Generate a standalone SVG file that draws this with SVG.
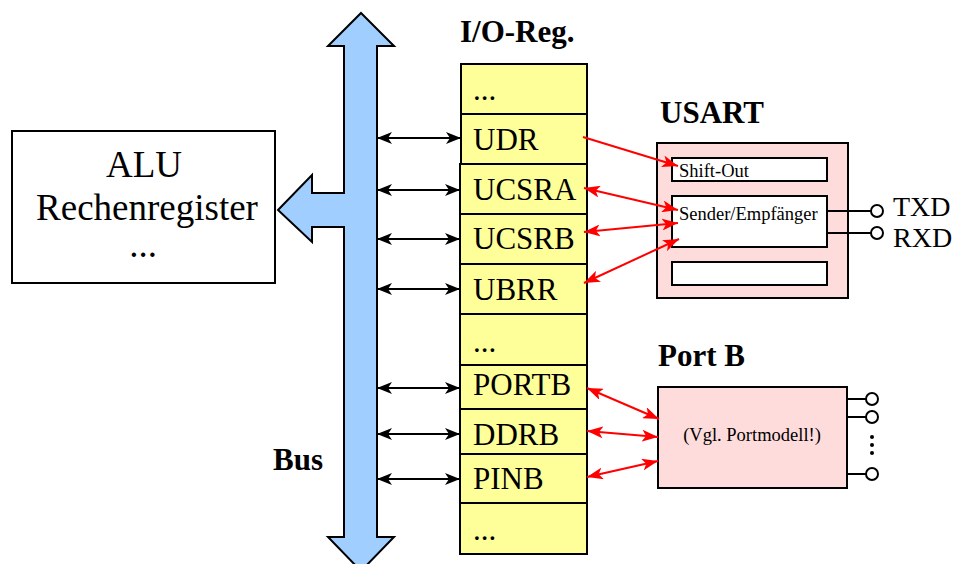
<svg xmlns="http://www.w3.org/2000/svg" width="960" height="564" viewBox="0 0 960 564">
  <style>
    .box { stroke: #000; stroke-width: 2; }
    .reg { fill: #ffff99; stroke: #000; stroke-width: 2; }
    .pink { fill: #ffdcdc; stroke: #000; stroke-width: 2; }
    .white { fill: #fff; stroke: #000; stroke-width: 2; }
    .t { font-family: "Liberation Serif", "Times New Roman", serif; fill: #000; }
    .title { font-family: "Liberation Serif", "Times New Roman", serif; font-weight: bold; font-size: 31px; fill: #000; }
    .regtxt { font-family: "Liberation Serif", "Times New Roman", serif; font-size: 31px; fill: #000; }
    .blk { stroke: #000; stroke-width: 2; fill: none; marker-start: url(#ab); marker-end: url(#ab); }
    .red { stroke: #ff0000; stroke-width: 2; fill: none; marker-end: url(#ar); }
    .red2 { marker-start: url(#ar); }
    .wire { stroke: #000; stroke-width: 2; fill: none; }
    .pin { fill: #fff; stroke: #000; stroke-width: 2; }
  </style>
  <defs>
    <marker id="ab" markerUnits="userSpaceOnUse" markerWidth="15" markerHeight="12" refX="15" refY="6" orient="auto-start-reverse">
      <path d="M0,0 L15,6 L0,12 L4,6 Z" fill="#000"/>
    </marker>
    <marker id="ar" markerUnits="userSpaceOnUse" markerWidth="16" markerHeight="12" refX="16" refY="6" orient="auto-start-reverse">
      <path d="M0,0 L16,6 L0,12 L4,6 Z" fill="#ff0000"/>
    </marker>
  </defs>

  <!-- ALU block -->
  <g id="alu">
    <rect x="12" y="131" width="263" height="152" fill="#fff" class="box"/>
    <text class="t" x="144" y="177" font-size="37" text-anchor="middle">ALU</text>
    <text class="t" x="147" y="220" font-size="37" text-anchor="middle">Rechenregister</text>
    <text class="t" x="143" y="257" font-size="37" text-anchor="middle">...</text>
  </g>

  <!-- Data bus -->
  <g id="bus">
    <polygon points="361,13 394,46 377,46 377,537 394,537 361,571 328,537 344,537 344,227 312,227 312,242 278,210 312,175 312,193 344,193 344,46 328,46" fill="#a0cfff" stroke="#000" stroke-width="2"/>
    <text class="title" x="273" y="470">Bus</text>
  </g>

  <!-- I/O register file -->
  <g id="ioreg">
    <text class="title" x="460" y="42">I/O-Reg.</text>
    <rect class="reg" x="461" y="64" width="126" height="50"/>
    <text class="regtxt" x="473" y="100">...</text>
    <g id="reg-udr">
      <rect class="reg" x="461" y="114" width="126" height="50"/>
      <text class="regtxt" x="473" y="150">UDR</text>
    </g>
    <g id="reg-ucsra">
      <rect class="reg" x="460" y="164" width="127" height="50"/>
      <text class="regtxt" x="473" y="200">UCSRA</text>
    </g>
    <g id="reg-ucsrb">
      <rect class="reg" x="460" y="214" width="127" height="50"/>
      <text class="regtxt" x="473" y="249">UCSRB</text>
    </g>
    <g id="reg-ubrr">
      <rect class="reg" x="460" y="264" width="127" height="50"/>
      <text class="regtxt" x="473" y="300">UBRR</text>
    </g>
    <rect class="reg" x="460" y="314" width="127" height="51"/>
    <text class="regtxt" x="473" y="352">...</text>
    <g id="reg-portb">
      <rect class="reg" x="460" y="365" width="127" height="44"/>
      <text class="regtxt" x="473" y="395">PORTB</text>
    </g>
    <g id="reg-ddrb">
      <rect class="reg" x="460" y="409" width="127" height="45"/>
      <text class="regtxt" x="473" y="445">DDRB</text>
    </g>
    <g id="reg-pinb">
      <rect class="reg" x="460" y="454" width="127" height="49"/>
      <text class="regtxt" x="473" y="489">PINB</text>
    </g>
    <rect class="reg" x="460" y="503" width="127" height="51"/>
    <text class="regtxt" x="473" y="540">...</text>
  </g>

  <!-- USART unit -->
  <g id="usart">
    <text class="title" x="660" y="123">USART</text>
    <rect class="pink" x="657" y="143" width="191" height="155"/>
    <rect class="white" x="672" y="158" width="155" height="23"/>
    <text class="t" x="679" y="177" font-size="18.5">Shift-Out</text>
    <rect class="white" x="672" y="196" width="155" height="51"/>
    <text class="t" x="679" y="220" font-size="18.5">Sender/Empfänger</text>
    <rect class="white" x="672" y="262" width="155" height="23"/>
    <path class="wire" d="M827,211 H871 M827,233 H871"/>
    <circle class="pin" cx="877" cy="211" r="6"/>
    <circle class="pin" cx="877" cy="233" r="6"/>
    <text class="t" x="893" y="216" font-size="28">TXD</text>
    <text class="t" x="893" y="247" font-size="28">RXD</text>
  </g>

  <!-- Port B unit -->
  <g id="portb">
    <text class="title" x="658" y="366">Port B</text>
    <rect class="pink" x="658" y="387" width="189" height="101"/>
    <text class="t" x="752" y="441" font-size="18.5" text-anchor="middle">(Vgl. Portmodell!)</text>
    <path class="wire" d="M847,399 H866 M847,417 H866 M847,474 H866"/>
    <circle class="pin" cx="872" cy="399" r="6"/>
    <circle class="pin" cx="872" cy="417" r="6"/>
    <circle class="pin" cx="872" cy="474" r="6"/>
    <circle cx="872" cy="437" r="2" fill="#000"/>
    <circle cx="872" cy="445" r="2" fill="#000"/>
    <circle cx="872" cy="453" r="2" fill="#000"/>
  </g>

  <!-- Connectors -->
  <g id="connectors">
    <line class="blk" x1="377" y1="138" x2="461" y2="138"/>
    <line class="blk" x1="377" y1="190" x2="460" y2="190"/>
    <line class="blk" x1="377" y1="239" x2="460" y2="239"/>
    <line class="blk" x1="377" y1="289" x2="460" y2="289"/>
    <line class="blk" x1="377" y1="388" x2="460" y2="388"/>
    <line class="blk" x1="377" y1="434" x2="460" y2="434"/>
    <line class="blk" x1="377" y1="479" x2="460" y2="479"/>

    <line class="red" x1="583" y1="137" x2="678" y2="166"/>
    <line class="red red2" x1="584" y1="188" x2="678" y2="210"/>
    <line class="red red2" x1="584" y1="232" x2="678" y2="223"/>
    <line class="red red2" x1="584" y1="283" x2="679" y2="239"/>
    <line class="red red2" x1="587" y1="388" x2="659" y2="419"/>
    <line class="red red2" x1="587" y1="431" x2="658" y2="437"/>
    <line class="red red2" x1="587" y1="477" x2="658" y2="461"/>
  </g>
</svg>
